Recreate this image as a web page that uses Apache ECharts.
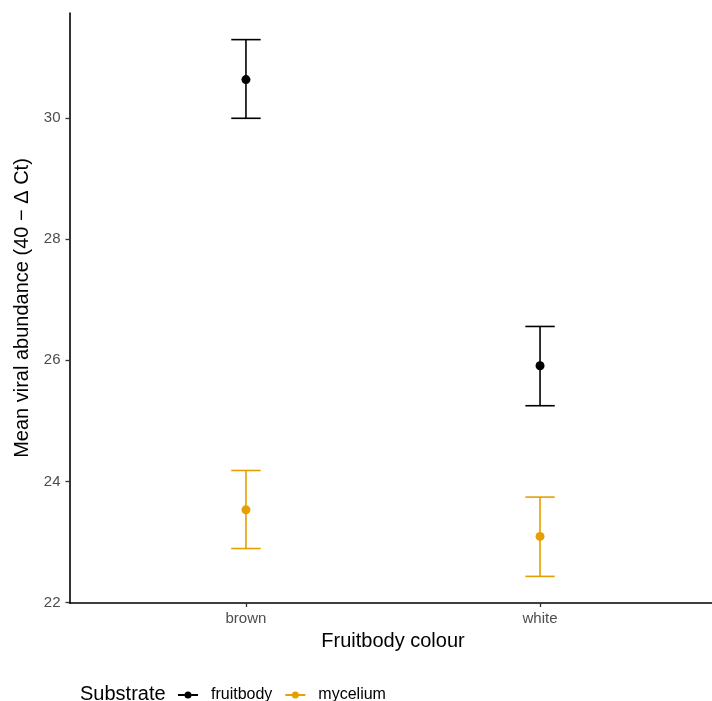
<!DOCTYPE html>
<html>
<head>
<meta charset="utf-8">
<script src="https://cdn.jsdelivr.net/npm/echarts@6/dist/echarts.min.js"></script>
<style>html,body{margin:0;padding:0;background:#fff;overflow:hidden}#main{width:717px;height:701px}</style>
</head>
<body>
<div id="main"></div>
<script>
const categories = ['brown', 'white'];
const substrates = ['fruitbody', 'mycelium'];
const fruitbodyMean = [30.64, 25.91];
const fruitbodyLower = [30.00, 25.25];
const fruitbodyUpper = [31.30, 26.56];
const myceliumMean = [23.53, 23.09];
const myceliumLower = [22.89, 22.43];
const myceliumUpper = [24.18, 23.74];
const yTicks = [22, 24, 26, 28, 30];

const colors = { fruitbody: '#000000', mycelium: '#E69F00' };
const FONT = "'Liberation Sans', Arial, sans-serif";
const halfW = 0.05;

const groups = {
  fruitbody: { mean: fruitbodyMean, lo: fruitbodyLower, hi: fruitbodyUpper },
  mycelium: { mean: myceliumMean, lo: myceliumLower, hi: myceliumUpper }
};

const legendIcon = 'path://M0,2.6 L6.6,2.6 L6.6,4.4 L0,4.4 Z M13.4,2.6 L20,2.6 L20,4.4 L13.4,4.4 Z M6.5,3.5 A3.5,3.5 0 1 0 13.5,3.5 A3.5,3.5 0 1 0 6.5,3.5 Z';

const series = [];
substrates.forEach(function (s) {
  const g = groups[s];
  series.push({
    name: s,
    type: 'custom',
    z: 2,
    encode: { x: 0, y: [1, 2] },
    data: categories.map(function (c, i) { return [i + 1, g.lo[i], g.hi[i]]; }),
    renderItem: function (params, api) {
      const x = api.value(0), lo = api.value(1), hi = api.value(2);
      const pLo = api.coord([x, lo]);
      const pHi = api.coord([x, hi]);
      const l1 = api.coord([x - halfW, hi]);
      const r1 = api.coord([x + halfW, hi]);
      const l2 = api.coord([x - halfW, lo]);
      const r2 = api.coord([x + halfW, lo]);
      const st = { stroke: colors[s], lineWidth: 1.6, fill: null };
      return {
        type: 'group',
        children: [
          { type: 'line', shape: { x1: pLo[0], y1: pLo[1], x2: pHi[0], y2: pHi[1] }, style: st },
          { type: 'line', shape: { x1: l1[0], y1: l1[1], x2: r1[0], y2: r1[1] }, style: st },
          { type: 'line', shape: { x1: l2[0], y1: l2[1], x2: r2[0], y2: r2[1] }, style: st }
        ]
      };
    },
    itemStyle: { color: colors[s] },
    silent: true
  });
  series.push({
    name: s,
    type: 'scatter',
    z: 3,
    symbol: 'circle',
    symbolSize: 9,
    itemStyle: { color: colors[s], opacity: 1 },
    data: categories.map(function (c, i) { return [i + 1, g.mean[i]]; })
  });
});

const chart = echarts.init(document.getElementById('main'), null, { renderer: 'canvas' });
chart.setOption({
  animation: false,
  backgroundColor: '#ffffff',
  textStyle: { fontFamily: FONT },
  grid: { left: 69.5, top: 13, width: 647, height: 590, containLabel: false },
  xAxis: {
    type: 'value',
    min: 0.4,
    max: 2.6,
    name: 'Fruitbody colour',
    nameLocation: 'middle',
    nameGap: 28,
    nameTextStyle: { fontSize: 20, color: '#000', fontFamily: FONT },
    axisLine: { show: true, lineStyle: { color: '#000', width: 1.6 } },
    axisTick: { show: true, length: 4, lineStyle: { color: '#333', width: 1.3 }, customValues: categories.map(function (c, i) { return i + 1; }) },
    axisLabel: {
      show: true, margin: 8, fontSize: 15, color: '#4D4D4D', fontFamily: FONT,
      customValues: categories.map(function (c, i) { return i + 1; }),
      formatter: function (v) { return categories[Math.round(v) - 1]; }
    },
    splitLine: { show: false }
  },
  yAxis: {
    type: 'value',
    min: 21.99,
    max: 31.74,
    name: 'Mean viral abundance (40 \u2212 \u0394 Ct)',
    nameLocation: 'middle',
    nameGap: 33,
    nameTextStyle: { fontSize: 20, color: '#000', fontFamily: FONT },
    axisLine: { show: true, lineStyle: { color: '#000', width: 1.6 } },
    axisTick: { show: true, length: 4, lineStyle: { color: '#333', width: 1.3 }, customValues: yTicks },
    axisLabel: { show: true, margin: 9, fontSize: 15, color: '#4D4D4D', fontFamily: FONT, customValues: yTicks },
    splitLine: { show: false }
  },
  legend: {
    left: 173,
    top: 682,
    orient: 'horizontal',
    itemWidth: 20,
    itemHeight: 7,
    itemGap: 13,
    textStyle: { fontSize: 16, color: '#000', fontFamily: FONT, padding: [0, 0, 0, 8] },
    data: substrates.map(function (s) { return { name: s, icon: legendIcon, itemStyle: { color: colors[s] } }; })
  },
  graphic: [{
    type: 'text',
    x: 80,
    y: 694,
    style: { text: 'Substrate', fontSize: 20, fill: '#000', fontFamily: FONT, verticalAlign: 'middle', align: 'left' }
  }],
  series: series
});
</script>
</body>
</html>
